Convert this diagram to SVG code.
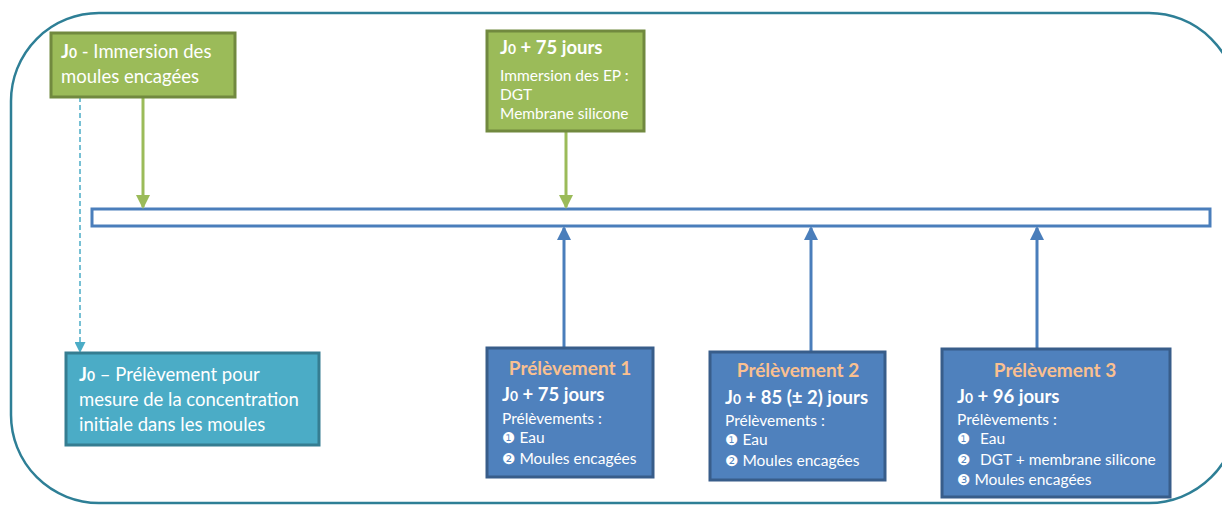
<svg xmlns="http://www.w3.org/2000/svg" width="1222" height="505" viewBox="0 0 1222 505">
<defs>
<style>
text{font-family:Lato,"Open Sans","Liberation Sans",sans-serif;fill:#fff}
.g{fill:#9bbb59;stroke:#71893f;stroke-width:3}
.t{fill:#4bacc6;stroke:#357d91;stroke-width:3}
.b{fill:#4f81bd;stroke:#385d8a;stroke-width:3}
.ttl{font-weight:bold;font-size:19px;fill:#fac090;text-anchor:middle}
.hd{font-weight:bold;font-size:18.5px}
.sm{font-size:15.5px}
.num{font-family:"DejaVu Sans",sans-serif;font-size:15px}
.sub{font-size:0.75em}
</style>
<marker id="ag" markerWidth="14" markerHeight="14" refX="12" refY="7" orient="auto" markerUnits="userSpaceOnUse" viewBox="0 0 14 14"><path d="M0,0 L14,7 L0,14 Z" fill="#9bbb59"/></marker>
<marker id="ab" markerWidth="14" markerHeight="14" refX="12" refY="7" orient="auto" markerUnits="userSpaceOnUse" viewBox="0 0 14 14"><path d="M0,0 L14,7 L0,14 Z" fill="#4a7ebb"/></marker>
<marker id="at" markerWidth="11" markerHeight="11" refX="10" refY="5.5" orient="auto" markerUnits="userSpaceOnUse" viewBox="0 0 11 11"><path d="M0,0 L11,5.5 L0,11 Z" fill="#4bacc6"/></marker>
</defs>
<rect x="11" y="13" width="1226" height="490" rx="88" ry="88" fill="none" stroke="#2e7f96" stroke-width="2.5"/>
<g id="timeline"><rect x="92" y="209" width="1118" height="17" fill="#fff" stroke="#4a7ebb" stroke-width="3"/></g>
<g id="connectors">
<line x1="143" y1="97" x2="143" y2="207" stroke="#9bbb59" stroke-width="3" marker-end="url(#ag)"/>
<line x1="566" y1="131" x2="566" y2="207" stroke="#9bbb59" stroke-width="3" marker-end="url(#ag)"/>
<line x1="80" y1="97" x2="80" y2="352" stroke="#4bacc6" stroke-width="1.5" stroke-dasharray="5,3" marker-end="url(#at)"/>
<line x1="564" y1="347" x2="564" y2="228" stroke="#4a7ebb" stroke-width="3" marker-end="url(#ab)"/>
<line x1="811" y1="351" x2="811" y2="228" stroke="#4a7ebb" stroke-width="3" marker-end="url(#ab)"/>
<line x1="1037" y1="348" x2="1037" y2="228" stroke="#4a7ebb" stroke-width="3" marker-end="url(#ab)"/>
</g>
<g id="n_immersion">
<rect class="g" x="51" y="33" width="184" height="64"/>
<text x="61" y="58" font-size="18.5"><tspan font-weight="bold">J<tspan class="sub">0</tspan></tspan> - Immersion des</text>
<text x="61" y="83" font-size="18.5">moules encagées</text>
</g>
<g id="n_ep">
<rect class="g" x="487" y="31" width="157" height="100"/>
<text class="hd" x="500" y="54">J<tspan class="sub">0</tspan> + 75 jours</text>
<text class="sm" x="500" y="81">Immersion des EP :</text>
<text class="sm" x="500" y="100">DGT</text>
<text class="sm" x="500" y="119">Membrane silicone</text>
</g>
<g id="n_initial">
<rect class="t" x="66" y="353" width="253" height="92"/>
<text x="79" y="381" font-size="18.5"><tspan font-weight="bold">J<tspan class="sub">0</tspan></tspan> – Prélèvement pour</text>
<text x="79" y="406" font-size="18.5">mesure de la concentration</text>
<text x="79" y="431" font-size="18.5">initiale dans les moules</text>
</g>
<g id="n_p1">
<rect class="b" x="487" y="348" width="166" height="129"/>
<text class="ttl" x="570" y="375">Prélèvement 1</text>
<text class="hd" x="502" y="401">J<tspan class="sub">0</tspan> + 75 jours</text>
<text class="sm" x="502" y="424">Prélèvements :</text>
<text class="sm" x="502" y="443"><tspan class="num">❶</tspan> Eau</text>
<text class="sm" x="502" y="464"><tspan class="num">❷</tspan> Moules encagées</text>
</g>
<g id="n_p2">
<rect class="b" x="710" y="352" width="175" height="128"/>
<text class="ttl" x="798" y="377">Prélèvement 2</text>
<text class="hd" x="725" y="404">J<tspan class="sub">0</tspan> + 85 (± 2) jours</text>
<text class="sm" x="725" y="426">Prélèvements :</text>
<text class="sm" x="725" y="445"><tspan class="num">❶</tspan> Eau</text>
<text class="sm" x="725" y="466"><tspan class="num">❷</tspan> Moules encagées</text>
</g>
<g id="n_p3">
<rect class="b" x="942" y="349" width="228" height="148"/>
<text class="ttl" x="1055" y="377">Prélèvement 3</text>
<text class="hd" x="957" y="403">J<tspan class="sub">0</tspan> + 96 jours</text>
<text class="sm" x="957" y="425">Prélèvements :</text>
<text class="sm" x="957" y="444"><tspan class="num">❶</tspan><tspan x="980">Eau</tspan></text>
<text class="sm" x="957" y="465"><tspan class="num">❷</tspan><tspan x="980">DGT + membrane silicone</tspan></text>
<text class="sm" x="957" y="485"><tspan class="num">❸</tspan> Moules encagées</text>
</g>
</svg>
